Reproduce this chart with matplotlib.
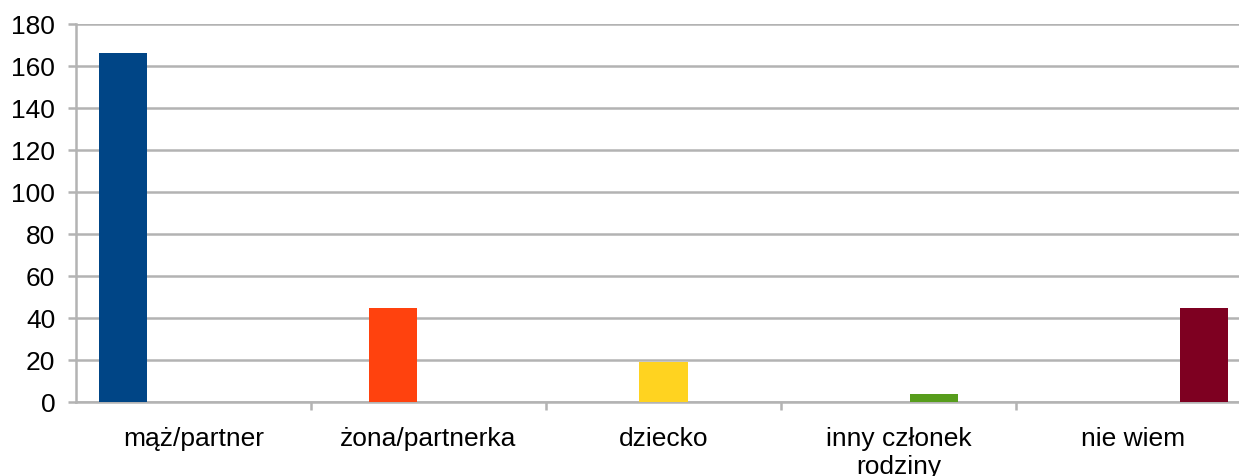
import numpy as np
import matplotlib.pyplot as plt

plt.rcParams['font.family'] = ['Liberation Sans', 'DejaVu Sans']

# categories and one series per category (only the matching slot is non-zero)
categories = ['mąż/partner', 'żona/partnerka', 'dziecko', 'inny członek\nrodziny', 'nie wiem']
values = [166, 45, 19, 4, 45]
colors = ['#004586', '#ff420e', '#ffd320', '#579d1c', '#7e0021']

grid_col = '#b3b3b3'

fig = plt.figure(figsize=(12.39, 4.77), dpi=100)
ax = fig.add_axes([76/1239, 1 - 403/477, (1251 - 76)/1239, (403 - 25)/477])

x = np.arange(len(categories))
n = len(values)
stride = 0.15
width = 0.205
for k in range(n):
    series = [values[k] if i == k else 0 for i in range(n)]
    ax.bar(x + (k - (n - 1) / 2) * stride, series, width=width, color=colors[k], zorder=3)

ax.set_xlim(-0.5, n - 0.5)
ax.set_ylim(0, 180)
ax.set_yticks(range(0, 181, 20))
ax.yaxis.grid(True, color=grid_col, linewidth=1.8, zorder=0)

ax.set_xticks(x)
ax.set_xticklabels(categories, fontsize=19, linespacing=1.25)
ax.set_xticks(np.arange(0.5, n - 0.5, 1), minor=True)
ax.tick_params(axis='x', which='major', length=0, pad=17)
ax.tick_params(axis='x', which='minor', length=6, width=1.8, color=grid_col)
ax.tick_params(axis='y', length=6, width=1.8, color=grid_col, labelsize=19, pad=9)

for side in ['top', 'right']:
    ax.spines[side].set_visible(False)
for side in ['left', 'bottom']:
    ax.spines[side].set_color(grid_col)
    ax.spines[side].set_linewidth(1.8)

fig.savefig('out.png', dpi=100)
